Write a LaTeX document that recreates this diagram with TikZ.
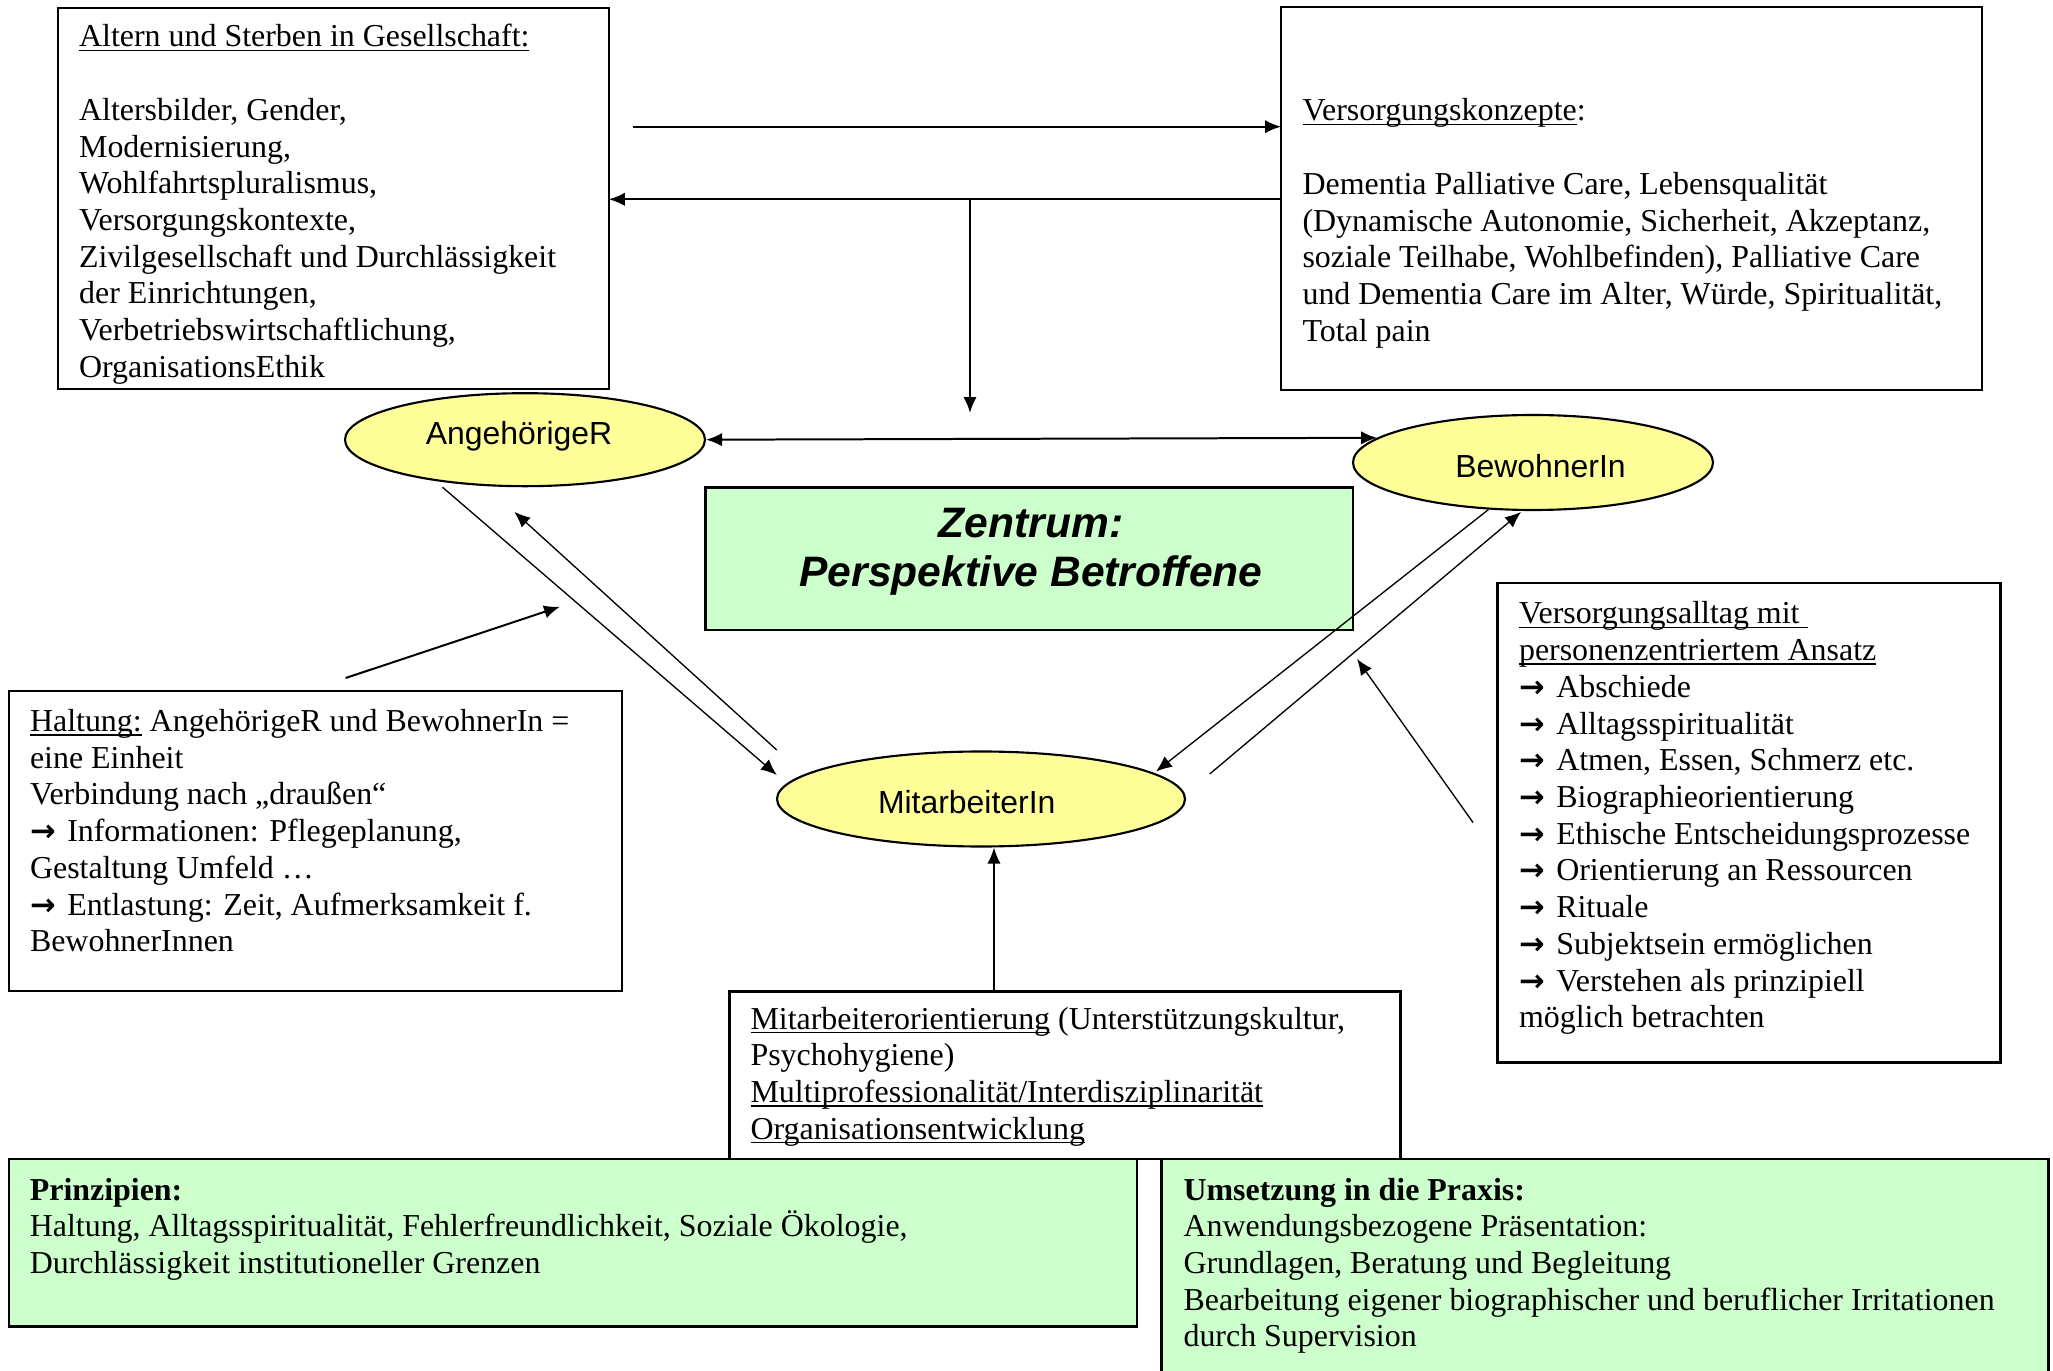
\documentclass[tikz,border=0pt]{standalone}
\usepackage{fontspec}
\setmainfont{Liberation Serif}
\setsansfont{Liberation Sans}
\newfontfamily\arrowfont{DejaVu Sans}
\usetikzlibrary{arrows.meta,shapes.geometric}
\definecolor{yell}{HTML}{FFFF99}
\definecolor{lgreen}{HTML}{CCFFCC}
\def\U{0.3759pt}
\newcommand{\Ul}[1]{\setbox0=\hbox{#1}\rlap{\rule[-1.6pt]{\wd0}{0.6pt}}\box0\relax}
\newcommand{\Tb}[1]{\vtop{\baselineskip=13.8pt\lineskiplimit=-50pt\lineskip=0pt\halign{##\hfil\cr#1\crcr}}}
\newcommand{\Cb}[1]{\vtop{\baselineskip=18.4pt\lineskiplimit=-50pt\lineskip=0pt\halign{\hfil##\hfil\cr#1\crcr}}}
\newcommand{\Ar}{\makebox[14pt][l]{\arrowfont\bfseries\fontsize{11.5pt}{12pt}\selectfont →}}
\begin{document}
\begin{tikzpicture}[x=\U, y=-\U,
  box/.style={draw, line width=0.8pt, inner sep=0pt, outer sep=0pt, anchor=north west},
  ell/.style={draw, ellipse, fill=yell, line width=0.8pt, inner sep=0pt},
  txt/.style={anchor=base west, inner sep=0pt, font=\fontsize{12pt}{13.8pt}\selectfont},
  etxt/.style={anchor=base, inner sep=0pt, font=\sffamily\fontsize{12pt}{13.8pt}\selectfont},
  arr/.style={line width=0.75pt, -{Latex[length=6pt,width=5pt]}},
  diag/.style={line width=0.5pt, -{Latex[length=6pt,width=5pt]}},
]
\useasboundingbox (0,0) rectangle (2053,1371);

% boxes
\node[box, minimum width=551.2*\U, minimum height=381.1*\U] (A) at (57.6,7.9) {};
\node[txt] (Atxt) at (78.6,47) {\Tb{\Ul{Altern und Sterben in Gesellschaft:}\cr
\cr
Altersbilder, Gender,\cr
Modernisierung,\cr
Wohlfahrtspluralismus,\cr
Versorgungskontexte,\cr
Zivilgesellschaft und Durchlässigkeit\cr
der Einrichtungen,\cr
Verbetriebswirtschaftlichung,\cr
OrganisationsEthik}};

\node[box, minimum width=700.8*\U, minimum height=383*\U] (V) at (1281,7) {};
\node[txt] (Vtxt) at (1302,121) {\Tb{\Ul{Versorgungskonzepte}:\cr
\cr
Dementia Palliative Care, Lebensqualität\cr
(Dynamische Autonomie, Sicherheit, Akzeptanz,\cr
soziale Teilhabe, Wohlbefinden), Palliative Care\cr
und Dementia Care im Alter, Würde, Spiritualität,\cr
Total pain}};

\node[box, minimum width=613*\U, minimum height=300*\U] (H) at (9,691) {};
\node[txt] (Htxt) at (29.5,731.5) {\Tb{\Ul{Haltung:} AngehörigeR und BewohnerIn =\cr
eine Einheit\cr
Verbindung nach „draußen“\cr
\Ar Informationen: Pflegeplanung,\cr
Gestaltung Umfeld …\cr
\Ar Entlastung: Zeit, Aufmerksamkeit f.\cr
BewohnerInnen}};

\node[box, minimum width=503*\U, minimum height=479.5*\U] (VA) at (1497.5,583) {};
\node[txt] (VAtxt) at (1518.5,624) {\Tb{\Ul{Versorgungsalltag mit\ }\cr
\Ul{personenzentriertem Ansatz}\cr
\Ar Abschiede\cr
\Ar Alltagsspiritualität\cr
\Ar Atmen, Essen, Schmerz etc.\cr
\Ar Biographieorientierung\cr
\Ar Ethische Entscheidungsprozesse\cr
\Ar Orientierung an Ressourcen\cr
\Ar Rituale\cr
\Ar Subjektsein ermöglichen\cr
\Ar Verstehen als prinzipiell\cr
möglich betrachten}};

\node[box, minimum width=671*\U, minimum height=167.5*\U] (MO) at (729.5,991.5) {};
\node[txt] (MOtxt) at (750,1029) {\Tb{\Ul{Mitarbeiterorientierung} (Unterstützungskultur,\cr
Psychohygiene)\cr
\Ul{Multiprofessionalität/Interdisziplinarität}\cr
\Ul{Organisationsentwicklung}}};

\node[box, fill=lgreen, minimum width=1128*\U, minimum height=167.5*\U] (P) at (9,1159) {};
\node[txt] (Ptxt) at (29.3,1200) {\Tb{\textbf{Prinzipien:}\cr
Haltung, Alltagsspiritualität, Fehlerfreundlichkeit, Soziale Ökologie,\cr
Durchlässigkeit institutioneller Grenzen}};

\node[box, fill=lgreen, minimum width=887*\U, minimum height=230*\U] (UP) at (1161.5,1159) {};
\node[txt] (UPtxt) at (1183,1200) {\Tb{\textbf{Umsetzung in die Praxis:}\cr
Anwendungsbezogene Präsentation:\cr
Grundlagen, Beratung und Begleitung\cr
Bearbeitung eigener biographischer und beruflicher Irritationen\cr
durch Supervision}};

\node[box, fill=lgreen, minimum width=647.5*\U, minimum height=142.5*\U] (Z) at (705.5,487.5) {};
\node[anchor=base, inner sep=0pt, font=\sffamily\bfseries\itshape\fontsize{16pt}{18.4pt}\selectfont] (Ztxt) at (1031,538) {\Cb{Zentrum:\cr Perspektive Betroffene}};

% ellipses
\node[ell, minimum width=360*\U, minimum height=93*\U] (AR) at (525,439.7) {};
\node[etxt] (ARtxt) at (519,445) {AngehörigeR};
\node[ell, minimum width=360*\U, minimum height=95*\U] (BW) at (1533,462.5) {};
\node[etxt] (BWtxt) at (1540.5,477.3) {BewohnerIn};
\node[ell, minimum width=408*\U, minimum height=95*\U] (MA) at (981,799) {};
\node[etxt] (MAtxt) at (966.7,813.3) {MitarbeiterIn};

% connectors
\coordinate (p1) at (633,126.7);
\draw[arr] (p1) -- (p1 -| V.west);
\coordinate (p2) at (970,199.3);
\draw[arr] (p2 -| V.west) -- (p2 -| A.east);
\coordinate (p3) at (970,413);
\draw[arr] (p2) -- (p3);
\draw[line width=0.75pt, {Latex[length=6pt,width=5pt]}-{Latex[length=6pt,width=5pt]}] (AR.east) -- (BW.171.6);

\coordinate (d1s) at (442.6,487.3); \coordinate (d1e) at (776.8,775);
\draw[diag] (d1s) -- (d1e);
\coordinate (d2s) at (776.8,750); \coordinate (d2e) at (514.3,511.8);
\draw[diag] (d2s) -- (d2e);
\coordinate (d3s) at (1488.5,509.5); \coordinate (d3e) at (1156,771.5);
\draw[diag] (d3s) -- (d3e);
\coordinate (d4s) at (1209.7,774); \coordinate (d4e) at (1521,512);
\draw[diag] (d4s) -- (d4e);

\coordinate (h1) at (345.6,678); \coordinate (h2) at (560,606.7);
\draw[arr] (h1) -- (h2);
\coordinate (v1) at (1473,822.5); \coordinate (v2) at (1357,659);
\draw[diag] (v1) -- (v2);
\coordinate (mx) at (994,0);
\draw[arr] (mx |- MO.north) -- (mx |- MA.south);
\end{tikzpicture}
\end{document}
